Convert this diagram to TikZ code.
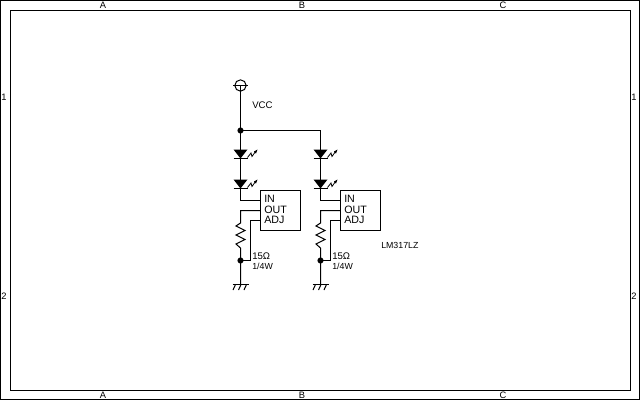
\documentclass[tikz,border=0pt]{standalone}
\usepackage{fontspec}
\setmainfont{Liberation Sans}
\tikzset{
  wire/.style={draw=black,line width=0.75pt},
  lbl/.style={inner sep=0pt,anchor=west,font=\fontsize{7.2}{8}\selectfont},
  lblnarrow/.style={inner sep=0pt,anchor=west,font=\fontsize{6.6}{8}\selectfont},
  iclbl/.style={inner sep=0pt,anchor=west,font=\fontsize{8}{9}\selectfont},
  edge/.style={inner sep=0pt,anchor=center,font=\fontsize{7}{8}\selectfont},
  dotn/.style={circle,fill=black,inner sep=0pt,minimum size=4.6pt},
  ledt/.pic={
    \fill (-7,-5) -- (7,-5) -- (0,4) -- cycle;
    \draw[line width=1.1pt] (-7,4) -- (7,4);
    \draw[line width=0.6pt] (7,3) -- (10.5,-1.5) -- (11.5,2) -- (15,-3);
    \fill (17,-5) -- (13.5,-3) -- (15.5,-1) -- cycle;
  }
}
\newcommand{\stage}[2]{%
  \begin{scope}[shift={(#1,0)}]
    \coordinate (t#2) at (240.5,130.5);
    \coordinate (v#2) at (240.5,200.5);
    \coordinate (o#2) at (240.5,210.5);
    \coordinate (ra#2) at (240.5,223);
    \coordinate (rb#2) at (240.5,250);
    \coordinate (j#2) at (240.5,260.5);
    \coordinate (g#2) at (240.5,284.5);
    \coordinate (a#2) at (250.5,220.5);
    \coordinate (a2#2) at (250.5,260.5);
    \coordinate (icnw#2) at (260.5,190.5);
    \coordinate (icse#2) at (300.5,230.5);
    \draw[wire] (icnw#2) rectangle (icse#2);
    \node[iclbl] (in#2) at (264,199) {IN};
    \node[iclbl] (out#2) at (264,209.5) {OUT};
    \node[iclbl] (adj#2) at (264,219.5) {ADJ};
    \coordinate (icin#2) at (260.5,200.5);
    \coordinate (icout#2) at (260.5,210.5);
    \coordinate (icadj#2) at (260.5,220.5);
    \draw[wire] (t#2) -- (v#2) -- (icin#2);
    \draw[wire] (icout#2) -- (o#2) -- (ra#2)
      -- (236,226) -- (245,230.5) -- (236,235) -- (245,239.5) -- (236,244) -- (240.5,248)
      -- (rb#2) -- (g#2);
    \draw[wire] (icadj#2) -- (a#2) -- (a2#2) -- (j#2);
    \pic at (240.5,154.5) {ledt};
    \pic at (240.5,184.5) {ledt};
    \node[dotn] (jd#2) at (j#2) {};
    \draw[wire] (232.5,284.5) -- (248.5,284.5);
    \draw[wire] (235.5,284.5) -- (233,290);
    \draw[wire] (241,284.5) -- (238.5,290);
    \draw[wire] (246.5,284.5) -- (244,290);
    \node[lbl] (r#2) at (252,256) {15Ω};
    \node[lblnarrow] (w#2) at (252,266) {1/4W};
  \end{scope}}
\begin{document}
\begin{tikzpicture}[x=0.75pt,y=-0.75pt]
\useasboundingbox (0,0) rectangle (640,400);
\fill[white] (0,0) rectangle (640,400);
\draw[wire] (0.5,0.5) rectangle (639.5,399.5);
\draw[wire] (10.5,10.5) rectangle (630.5,390.5);
\node[edge] (ta) at (103,5) {A};
\node[edge] (tb) at (302,5) {B};
\node[edge] (tc) at (503,5) {C};
\node[edge] (ba) at (103,395) {A};
\node[edge] (bb) at (302,395) {B};
\node[edge] (bc) at (503,395) {C};
\node[edge] (l1) at (4,97) {1};
\node[edge] (l2) at (4,296) {2};
\node[edge] (r1) at (634,97) {1};
\node[edge] (r2) at (634,296) {2};
\stage{0}{L}
\stage{80}{R}
\node[circle,draw=black,line width=0.75pt,minimum size=8.5pt,inner sep=0pt] (vcc) at (240.5,85.5) {};
\coordinate (vl) at (233,85.5);
\coordinate (vr) at (248,85.5);
\draw[wire] (vl) -- (vr);
\draw[wire] (vcc.center) -- (tL);
\draw[wire] (tL) -- (tR) -- (320.5,150);
\node[dotn] (jt) at (tL) {};
\node[lbl] (vcclbl) at (252,105.5) {VCC};
\node[lblnarrow] (lm) at (381,245.5) {LM317LZ};
\end{tikzpicture}
\end{document}
